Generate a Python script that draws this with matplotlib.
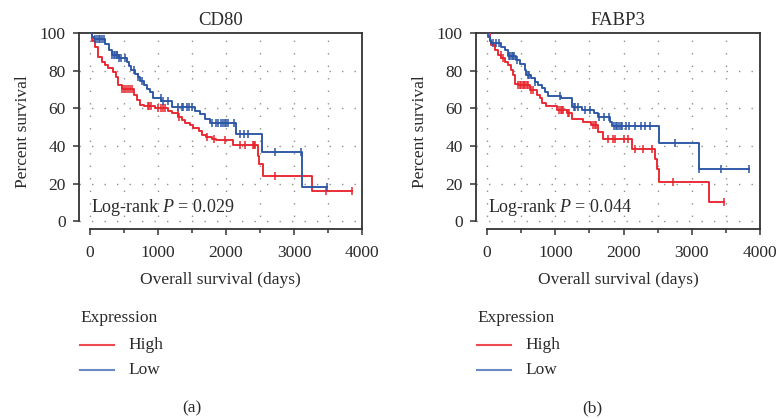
import numpy as np
import matplotlib
matplotlib.use("Agg")
import matplotlib.pyplot as plt
from matplotlib.lines import Line2D

plt.rcParams['font.family'] = ['Liberation Serif', 'DejaVu Serif']
plt.rcParams['mathtext.fontset'] = 'custom'
plt.rcParams['mathtext.rm'] = 'Liberation Serif'
plt.rcParams['mathtext.it'] = 'Liberation Serif:italic'

# ---------------- data ----------------
titles = ["CD80", "FABP3"]
pvalues = ["0.029", "0.044"]
panel_tags = ["(a)", "(b)"]
group_labels = ["High", "Low"]
x_ticks = [0, 1000, 2000, 3000, 4000]
y_ticks = [0, 20, 40, 60, 80, 100]

# CD80 - High expression
cd80_high_t = [0, 25, 74, 122, 172, 220, 270, 343, 382, 417, 466, 640, 690, 740, 790, 960,
               1150, 1200, 1300, 1350, 1400, 1470, 1520, 1600, 1640, 1700, 1790, 1860, 2110,
               2470, 2490, 2540, 3260]
cd80_high_s = [100, 96, 92.7, 87.4, 84.7, 83, 81.2, 79.4, 76.8, 72.3, 70.5, 67.2, 64.4, 61.7,
               61.3, 60.2, 58.4, 57.3, 55.3, 53.8, 52, 51, 49.4, 48, 46, 44.7, 43.6, 43.2, 40.8,
               35, 30.5, 24.2, 16.1]
cd80_high_end = 3848
cd80_high_cens = [470, 500, 530, 560, 590, 620, 850, 870, 900, 1000, 1050, 1080, 1100, 1290,
                  1310, 1720, 1820, 1990, 2200, 2280, 2390, 2410, 2430, 2720, 3470, 3848]

# CD80 - Low expression
cd80_low_t = [0, 30, 60, 220, 280, 320, 420, 540, 570, 610, 660, 700, 740, 790, 840, 880, 920,
              1050, 1200, 1550, 1620, 1690, 1760, 2150, 2525, 3122]
cd80_low_s = [100, 98, 96.8, 94, 91, 88.5, 86.8, 84.8, 82.5, 80.5, 78.5, 76.5, 74.5, 72.5, 70.5,
              68.5, 65.7, 64, 60.8, 58.6, 56.9, 54.6, 52.5, 46.5, 36.9, 18.3]
cd80_low_end = 3480
cd80_low_cens = [80, 110, 130, 150, 180, 200, 330, 350, 370, 390, 400, 430, 450, 520, 640, 700,
                 760, 1040, 1070, 1150, 1300, 1350, 1370, 1420, 1460, 1500, 1800, 1850, 1880,
                 1920, 1950, 1980, 2000, 2030, 2120, 2200, 2270, 2320, 2720, 3110, 3480]

# FABP3 - High expression
fabp3_high_t = [0, 40, 64, 113, 162, 210, 260, 310, 350, 380, 405, 455, 627, 725, 775, 800, 870,
                1020, 1165, 1240, 1410, 1530, 1630, 1700, 2120, 2465, 2490, 2515, 3250]
fabp3_high_s = [100, 96.3, 93.6, 91, 88.3, 86.5, 84.8, 83, 80.3, 77.7, 73.2, 72.3, 69.7, 67,
                65.3, 62.6, 61.2, 59, 57.3, 54.6, 52.9, 51.1, 47.5, 44, 38.7, 33.4, 28, 21, 10.3]
fabp3_high_end = 3470
fabp3_high_cens = [200, 230, 460, 480, 500, 520, 540, 560, 580, 600, 650, 680, 1050, 1080, 1100,
                   1120, 1180, 1200, 1550, 1580, 1600, 1770, 1840, 1880, 2000, 2070, 2170, 2290,
                   2420, 2720, 3470]

# FABP3 - Low expression
fabp3_low_t = [0, 15, 40, 64, 210, 260, 310, 430, 480, 554, 578, 650, 700, 750, 800, 850, 900,
               1090, 1240, 1390, 1560, 1630, 1800, 1830, 2515, 3100]
fabp3_low_s = [100, 98, 96, 94.5, 92.7, 91, 87.8, 85.6, 83.4, 80.3, 77.7, 75.9, 74, 72.4, 70.6,
               68.8, 66.7, 65.3, 60.8, 59, 57.3, 55.5, 52.8, 50.5, 41.7, 27.7]
fabp3_low_end = 3837
fabp3_low_cens = [90, 130, 180, 320, 340, 360, 380, 400, 440, 600, 620, 700, 1070, 1270, 1290,
                  1340, 1440, 1510, 1640, 1710, 1780, 1860, 1890, 1910, 1940, 1960, 1980, 2030,
                  2080, 2170, 2250, 2320, 2390, 2750, 3100, 3430, 3837]

panels = [
    [(cd80_high_t, cd80_high_s, cd80_high_end, cd80_high_cens),
     (cd80_low_t, cd80_low_s, cd80_low_end, cd80_low_cens)],
    [(fabp3_high_t, fabp3_high_s, fabp3_high_end, fabp3_high_cens),
     (fabp3_low_t, fabp3_low_s, fabp3_low_end, fabp3_low_cens)],
]

# ---------------- style ----------------
colors = ["#E8252E", "#2B55A5"]
legend_colors = ["#EE4A50", "#6A8AC4"]
text_color = "#2a2a2a"
spine_color = "#333333"
FS = 12.5

fig = plt.figure(figsize=(7.76, 4.19), dpi=100)
W, H = 776, 419

axes_px = [(79, 362), (476, 760)]
top_px, bot_px = 33, 229.3
tag_x = [192, 592]

for i, (x0, x1) in enumerate(axes_px):
    ax = fig.add_axes([x0 / W, 1 - bot_px / H, (x1 - x0) / W, (bot_px - top_px) / H])
    ax.set_xlim(-162, 4000)
    ax.set_ylim(-4.15, 100)

    # dotted grid
    for gx in np.arange(0, 4000, 500):
        ax.axvline(gx, color="#8f8f8f", lw=1.0, ls=(0, (1, 8)), zorder=0)
    for gy in [0, 20, 40, 60, 80]:
        ax.axhline(gy, color="#8f8f8f", lw=1.0, ls=(0, (1, 8)), zorder=0)

    for (t, s, end, cens), col in zip(panels[i], colors):
        t = np.asarray(t, float)
        s = np.asarray(s, float)
        ax.step(np.append(t, end), np.append(s, s[-1]), where="post", color=col, lw=1.35,
                zorder=3)
        c = np.asarray(cens, float)
        cy = s[np.searchsorted(t, c, side="right") - 1]
        ax.plot(c, cy, ls="none", marker="|", ms=6, mew=1.1, color=col, zorder=4)

    for sp in ax.spines.values():
        sp.set_color(spine_color)
        sp.set_linewidth(1.3)
    ax.spines["left"].set_bounds(0, 100)
    ax.spines["bottom"].set_bounds(0, 4000)

    ax.set_xticks(x_ticks)
    ax.set_xticks(np.arange(500, 4000, 1000), minor=True)
    ax.set_yticks(y_ticks)
    ax.tick_params(axis="both", which="both", direction="out", color=spine_color, width=1.1,
                   labelcolor=text_color, labelsize=FS)
    ax.tick_params(axis="y", length=4.5, pad=5)
    ax.tick_params(axis="x", which="major", length=4.5, pad=7)
    ax.tick_params(axis="x", which="minor", length=3)

    ax.set_title(titles[i], fontsize=FS + 1, color=text_color, pad=6)
    ax.set_xlabel("Overall survival (days)", fontsize=FS, color=text_color, labelpad=8)
    ax.set_ylabel("Percent survival", fontsize=FS, color=text_color, labelpad=6)

    ax.text(20, 7.3, "Log-rank $\\mathit{P}$ = " + pvalues[i], fontsize=FS + 0.5,
            color=text_color, ha="left", va="center", zorder=5)

    # legend (manual, below axes)
    lx = x0 + 1
    fig.text(lx / W, 1 - 318 / H, "Expression", fontsize=FS, color=text_color,
             ha="left", va="center")
    for j, (lab, lc) in enumerate(zip(group_labels, legend_colors)):
        yy = 1 - (345 + 24.5 * j) / H
        fig.add_artist(Line2D([lx / W, (lx + 34) / W], [yy, yy], color=lc, lw=1.5))
        fig.text((lx + 48) / W, yy, lab, fontsize=FS, color=text_color, ha="left", va="center")

    fig.text(tag_x[i] / W, 1 - 408 / H, panel_tags[i], fontsize=FS, color=text_color,
             ha="center", va="center")

fig.savefig("out.png", dpi=100)
